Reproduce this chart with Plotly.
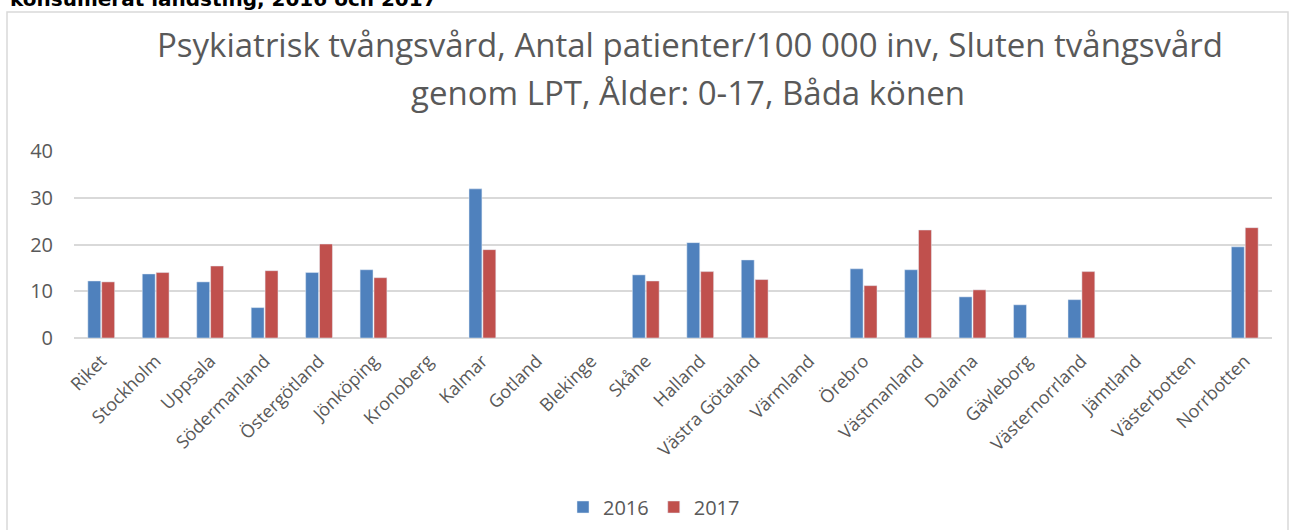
import plotly.graph_objects as go

categories = ["Riket", "Stockholm", "Uppsala", "Södermanland", "Östergötland", "Jönköping",
              "Kronoberg", "Kalmar", "Gotland", "Blekinge", "Skåne", "Halland",
              "Västra Götaland", "Värmland", "Örebro", "Västmanland", "Dalarna",
              "Gävleborg", "Västernorrland", "Jämtland", "Västerbotten", "Norrbotten"]
v2016 = [12.2, 13.7, 12.0, 6.5, 14.0, 14.6, None, 31.9, None, None, 13.5, 20.4,
         16.7, None, 14.8, 14.6, 8.8, 7.1, 8.2, None, None, 19.5]
v2017 = [12.0, 14.0, 15.4, 14.4, 20.1, 12.9, None, 18.9, None, None, 12.2, 14.2,
         12.5, None, 11.2, 23.1, 10.3, None, 14.2, None, None, 23.6]
series_names = ["2016", "2017"]
title_lines = ["Psykiatrisk tvångsvård, Antal patienter/100 000 inv, Sluten tvångsvård",
               "genom LPT, Ålder: 0-17, Båda könen"]
header_text = "konsumerat landsting, 2016 och 2017"

W, H = 1291, 530
L, R, T, B = 74, 19, 151, 192
n = len(categories)

def px(x):
    return (x - L) / (W - L - R)

def py(y):
    return (H - B - y) / (H - T - B)

font = "Open Sans"
grey = "#595959"

fig = go.Figure()
fig.add_trace(go.Bar(x=categories, y=v2016, name=series_names[0], marker_color="#4F81BD"))
fig.add_trace(go.Bar(x=categories, y=v2017, name=series_names[1], marker_color="#C0504D"))

fig.update_layout(
    width=W, height=H,
    margin=dict(l=L, r=R, t=T, b=B, autoexpand=False),
    paper_bgcolor="white", plot_bgcolor="white",
    barmode="group", bargap=0.49, bargroupgap=0.07,
    font=dict(family=font, color=grey, size=18),
    showlegend=True,
    legend=dict(orientation="h", x=px(654), xanchor="center", y=py(507), yanchor="middle",
                font=dict(size=20, color=grey), traceorder="normal"),
    xaxis=dict(tickangle=-45, tickfont=dict(size=18, color=grey), showgrid=False,
               showline=False, ticks="", range=[-0.5, n - 0.5], automargin=False,
               ticklabelstandoff=8),
    yaxis=dict(range=[0, 40], dtick=10, gridcolor="#d9d9d9", gridwidth=1.5,
               zeroline=True, zerolinecolor="#d9d9d9", zerolinewidth=2,
               showline=False, ticks="", tickfont=dict(size=20, color=grey),
               ticklabelstandoff=20, automargin=False),
)

fig.add_shape(type="rect", xref="paper", yref="paper",
              x0=px(7), x1=px(1288), y0=py(545), y1=py(12),
              line=dict(color="#d9d9d9", width=1.5), fillcolor="rgba(0,0,0,0)", layer="below")

fig.add_annotation(text=title_lines[0], xref="paper", yref="paper", x=px(690), y=py(45),
                   xanchor="center", yanchor="middle", showarrow=False,
                   font=dict(size=33, color=grey, family=font))
fig.add_annotation(text=title_lines[1], xref="paper", yref="paper", x=px(688), y=py(92),
                   xanchor="center", yanchor="middle", showarrow=False,
                   font=dict(size=33, color=grey, family=font))
fig.add_annotation(text="<b>" + header_text + "</b>", xref="paper", yref="paper",
                   x=px(8), y=py(13), xanchor="left", yanchor="bottom", showarrow=False,
                   font=dict(size=20, color="black", family="DejaVu Sans"))

fig.write_html("out.html", config={"displayModeBar": False},
               post_script="document.body.style.margin='0';")
